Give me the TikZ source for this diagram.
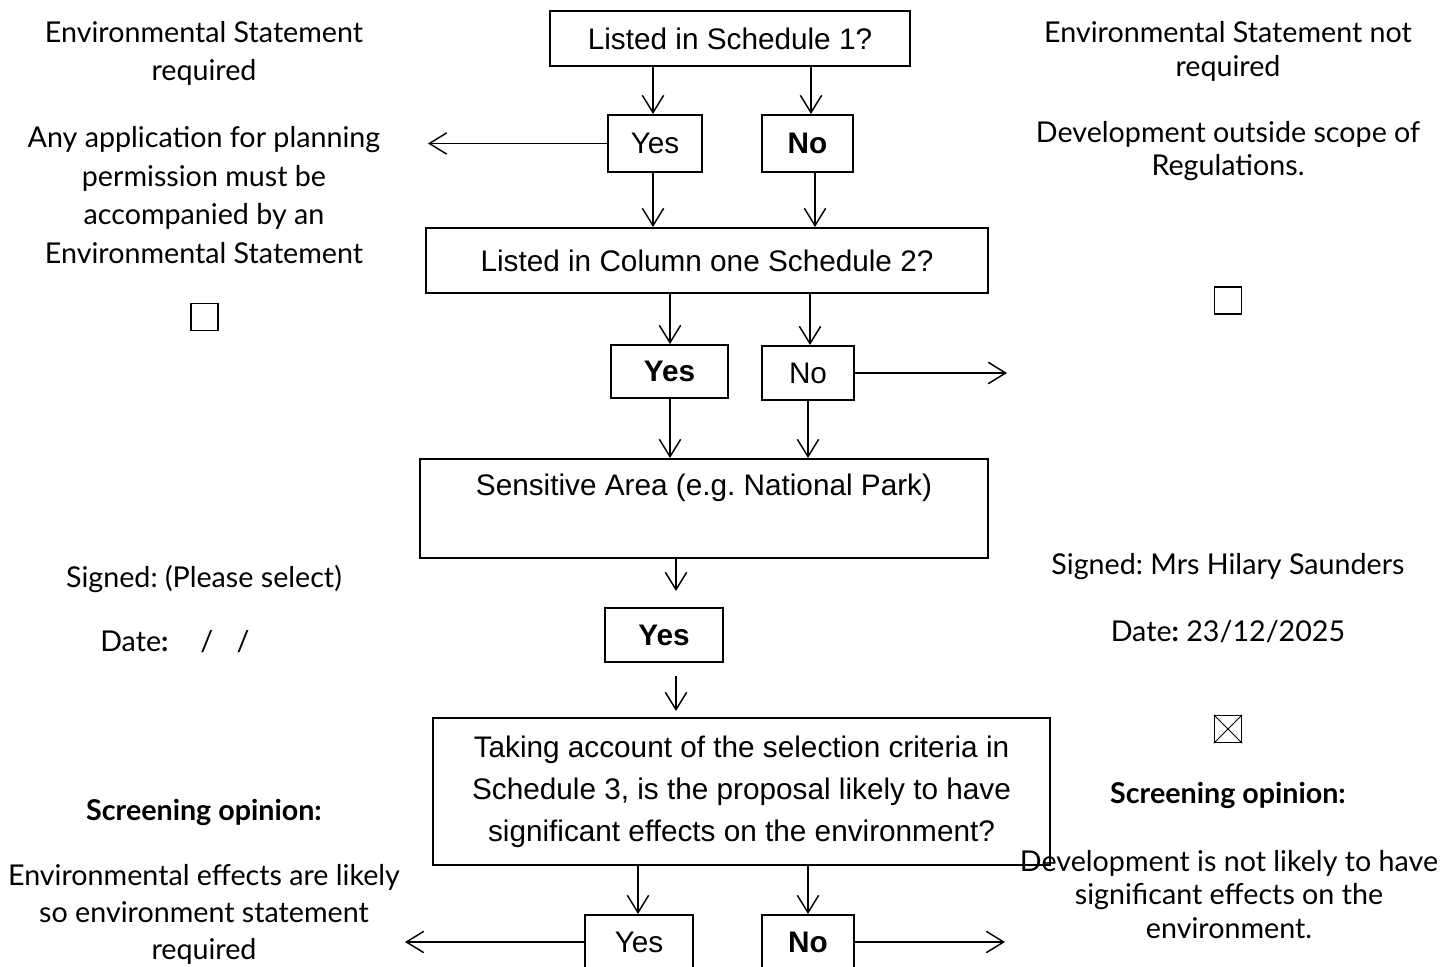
\documentclass[tikz,border=0pt]{standalone}
\usepackage{fontspec}
\setmainfont{Lato}
\newfontfamily\boxfont{Liberation Sans}
\usetikzlibrary{arrows.meta}
\frenchspacing
\begin{document}
\begin{tikzpicture}[x=0.75pt,y=-0.75pt,
  box/.style={draw, line width=1.5pt, inner sep=0pt, font=\boxfont\fontsize{22.3}{31.5}\selectfont, align=center},
  boxtext/.style={inner sep=0pt, font=\boxfont\fontsize{22.3}{31.5}\selectfont, align=center},
  arr/.style={line width=1.1pt, -{Straight Barb[length=13pt,width=16pt,line width=1.1pt]}},
  ltxt/.style={inner sep=0pt, align=center, font=\fontsize{21.5}{29}\selectfont},
  rtxt/.style={inner sep=0pt, align=center, font=\fontsize{21.5}{25}\selectfont},
  cbox/.style={draw, line width=1.1pt, minimum size=20.25pt, inner sep=0pt}]
\useasboundingbox (0,0) rectangle (1450,967);
% boxes
\node[box, minimum width=270pt, minimum height=41.25pt] (b1) at (730,38.5) {Listed in Schedule 1?};
\node[box, minimum width=70.5pt, minimum height=42.75pt] (y1) at (655,143.5) {Yes};
\node[box, minimum width=68.25pt, minimum height=42.75pt] (n1) at (807.5,143.5) {\bfseries No};
\node[box, minimum width=421.5pt, minimum height=48.75pt] (b2) at (707,260.5) {Listed in Column one Schedule 2?};
\node[box, minimum width=87.75pt, minimum height=39.75pt] (y2) at (669.5,371.5) {\bfseries Yes};
\node[box, minimum width=69pt, minimum height=40.5pt] (n2) at (808,373) {No};
\node[box, minimum width=426pt, minimum height=74.25pt] (b3) at (704,508.5) {};
\node[boxtext] (b3t) at (704,488) {Sensitive Area (e.g. National Park)};
\node[box, minimum width=88.5pt, minimum height=40.5pt] (y3) at (664,635) {\bfseries Yes};
\node[box, minimum width=462.75pt, minimum height=110.25pt] (b4) at (741.5,791.5) {Taking account of the selection criteria in\\Schedule 3, is the proposal likely to have\\significant effects on the environment?};
\node[box, minimum width=81pt, minimum height=40.5pt] (y4) at (639,942) {Yes};
\node[box, minimum width=69pt, minimum height=40.5pt] (n4) at (808,942) {\bfseries No};
% x positions
\coordinate (x653) at (653,0);
\coordinate (x811) at (811,0);
\coordinate (x815) at (815,0);
\coordinate (x670) at (670,0);
\coordinate (x810) at (810,0);
\coordinate (x808) at (808,0);
\coordinate (x676) at (676,0);
\coordinate (x638) at (638,0);
% vertical arrows
\draw[arr] (b1.south -| x653) -- (y1.north -| x653);
\draw[arr] (b1.south -| x811) -- (n1.north -| x811);
\draw[arr] (y1.south -| x653) -- (b2.north -| x653);
\draw[arr] (n1.south -| x815) -- (b2.north -| x815);
\draw[arr] (b2.south -| x670) -- (y2.north -| x670);
\draw[arr] (b2.south -| x810) -- (n2.north -| x810);
\draw[arr] (y2.south -| x670) -- (b3.north -| x670);
\draw[arr] (n2.south -| x808) -- (b3.north -| x808);
\draw[arr, shorten >=12pt] (b3.south -| x676) -- (y3.north -| x676);
\draw[arr, shorten <=9.75pt, shorten >=4.5pt] (y3.south -| x676) -- (b4.north -| x676);
\draw[arr] (b4.south -| x638) -- (y4.north -| x638);
\draw[arr] (b4.south -| x808) -- (n4.north -| x808);
% horizontal arrows
\coordinate (l1) at (428,143.5);
\coordinate (r2) at (1007,373);
\coordinate (l4) at (405,942);
\coordinate (r4) at (1005,942);
\draw[arr] (y1.west) -- (l1);
\draw[arr] (n2.east) -- (r2);
\draw[arr] (y4.west) -- (l4);
\draw[arr] (n4.east) -- (r4);
% left texts
\node[ltxt] (lt1) at (204,53.5) {Environmental Statement\\required};
\node[ltxt] (lt2) at (204,195) {Any application for planning\\permission must be\\accompanied by an\\Environmental Statement};
\node[cbox] (cb1) at (204.5,317) {};
\node[ltxt] (lt3) at (204,579) {Signed: (Please select)};
\node[ltxt, anchor=west] (lt4) at (100,642) {Date\textbf{:}\hspace{24pt}/\hspace{17.5pt}/};
\node[ltxt] (lt5) at (204,812) {\bfseries Screening opinion:};
\node[ltxt, font=\fontsize{21.5}{28}\selectfont] (lt6) at (204,914.5) {Environmental effects are likely\\so environment statement\\required};
% right texts
\node[rtxt] (rt1) at (1228,51.5) {Environmental Statement not\\required};
\node[rtxt] (rt2) at (1228,151) {Development outside scope of\\Regulations.};
\node[cbox] (cb2) at (1228,300.5) {};
\node[rtxt] (rt3) at (1228,567) {Signed: Mrs Hilary Saunders};
\node[rtxt] (rt4) at (1228,632) {Date\textbf{:} 23/12/2025};
\node[cbox] (cb3) at (1228,729) {};
\draw[line width=0.6pt] (cb3.north west) -- (cb3.south east) (cb3.north east) -- (cb3.south west);
\node[rtxt] (rt5) at (1228,795) {\bfseries Screening opinion:};
\node[rtxt] (rt6) at (1229,894.5) {Development is not likely to have\\significant effects on the\\environment.};
\end{tikzpicture}
\end{document}
